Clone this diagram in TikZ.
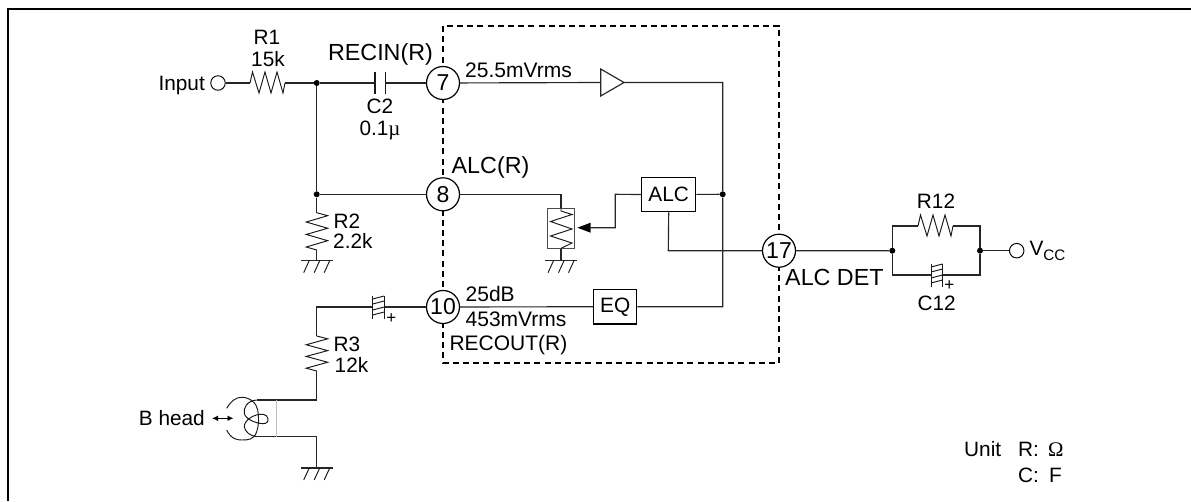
\documentclass[tikz,border=0pt]{standalone}
\usepackage{fontspec}
\setmainfont{Liberation Sans}
\newfontfamily\symfont{Liberation Serif}
\usetikzlibrary{arrows.meta}
\tikzset{
  wire/.style={line width=1.15pt,black!85,line join=miter},
  zig/.style={line width=0.95pt,black!90,line join=miter},
  lab/.style={inner sep=0pt,anchor=base west,font=\fontsize{20.8}{22}\selectfont,text=black},
  biglab/.style={inner sep=0pt,anchor=base west,font=\fontsize{23.3}{25}\selectfont,text=black},
  midlab/.style={inner sep=0pt,anchor=base west,font=\fontsize{21}{23}\selectfont,text=black},
  pluslab/.style={inner sep=0pt,font=\fontsize{17}{18}\selectfont,text=black},
  pin/.style={circle,draw,line width=1.2pt,minimum size=33pt,inner sep=0pt,fill=white,font=\fontsize{23}{24}\selectfont},
  port/.style={circle,draw,line width=0.95pt,minimum size=14.5pt,inner sep=0pt,fill=white},
  blockbox/.style={draw,line width=1.4pt,fill=white,inner sep=0pt,font=\fontsize{20.8}{22}\selectfont},
  junction/.style={circle,fill=black,minimum size=6pt,inner sep=0pt},
  frameline/.style={line width=2.2pt,black},
  dashbox/.style={line width=1.25pt,black,dash pattern=on 6pt off 4.2pt},
}
\newcommand{\gnd}[2]{%
  \draw[wire] (#1-16,#2) -- (#1+16,#2);
  \draw[zig] (#1-7.5,#2) -- (#1-13,#2+12) (#1+3,#2) -- (#1-2.5,#2+12) (#1+13,#2) -- (#1+7.5,#2+12);}
\newcommand{\reshor}[2]{%
  \draw[zig] (#1,#2) -- ++(2.5,-11) -- ++(6.5,21) -- ++(6,-21) -- ++(6,21) -- ++(6,-21) -- ++(6,21) -- ++(2,-10);}
\newcommand{\resver}[3]{% x, start y, end y
  \draw[zig] (#1,#2) -- (#1+11,#2+0.08*#3-0.08*#2) -- (#1-10.5,#2+0.25*#3-0.25*#2) -- (#1+11,#2+0.417*#3-0.417*#2) -- (#1-10.5,#2+0.583*#3-0.583*#2) -- (#1+11,#2+0.75*#3-0.75*#2) -- (#1-10.5,#2+0.92*#3-0.92*#2) -- (#1,#3);}
\newcommand{\polcap}[2]{% left plate x, wire y
  \draw[line width=1pt,black!90] (#1,#2-11.5) -- (#1,#2+11.5) (#1+11.5,#2-11.5) -- (#1+11.5,#2+11.5);
  \draw[zig] (#1,#2-8) -- (#1+11.5,#2-11) (#1,#2-3) -- (#1+11.5,#2-6) (#1,#2+3) -- (#1+11.5,#2) (#1,#2+8) -- (#1+11.5,#2+5);}
\begin{document}
\begin{tikzpicture}[x=1pt,y=-1pt]
\useasboundingbox (0,0) rectangle (1191,501);
\fill[white] (0,0) rectangle (1191,501);
\draw[frameline] (8,501) -- (8,9) -- (1191,9);
\draw[dashbox] (443,26) rectangle (779,363);

% pins and blocks
\node[pin] (p7) at (443,83) {7};
\node[pin] (p8) at (443,194.3) {8};
\node[pin] (p10) at (443,307) {10};
\node[pin] (p17) at (779,250.7) {17};
\node[blockbox,minimum width=54pt,minimum height=34.4pt] (alc) at (668.7,194.5) {ALC};
\node[blockbox,minimum width=43pt,minimum height=34.7pt] (eq) at (615.2,306.7) {EQ};
\node[port] (input) at (218,83) {};
\node[port] (vcc) at (1016.7,250.7) {};

% junctions
\node[junction] (j1) at (316.7,83) {};
\node[junction] (j2) at (316.7,194.3) {};
\node[junction] (j3) at (722.7,194.3) {};
\node[junction] (j4) at (892.3,250.7) {};
\node[junction] (j5) at (980,250.7) {};

% coordinates
\coordinate (r1a) at (250,83);
\coordinate (r1b) at (285,83);
\coordinate (c2a) at (375,83);
\coordinate (c2b) at (385.7,83);
\coordinate (r2a) at (316.7,212.7);
\coordinate (r2b) at (316.7,250);
\coordinate (g2) at (316.7,260.7);
\coordinate (c3a) at (372.7,307);
\coordinate (c3b) at (384.2,307);
\coordinate (k3) at (316.7,307);
\coordinate (r3a) at (316.7,336);
\coordinate (r3b) at (316.7,371);
\coordinate (k4) at (316.7,400);
\coordinate (h1) at (256.7,400);
\coordinate (h2) at (256.7,436.7);
\coordinate (k5) at (316.7,436.7);
\coordinate (g3) at (316.7,468);
\coordinate (ta) at (600.7,82.5);
\coordinate (tb) at (624,82.5);
\coordinate (k6) at (722.7,82.5);
\coordinate (k7) at (722.7,306.7);
\coordinate (vr) at (561,194.3);
\coordinate (vt) at (561,208);
\coordinate (vb) at (561,248.3);
\coordinate (g1) at (561,260.7);
\coordinate (at) at (577.3,227.7);
\coordinate (ab) at (590.7,227.7);
\coordinate (k8) at (615.3,227.7);
\coordinate (k9) at (615.3,194.3);
\coordinate (k10) at (668.3,250.7);
\coordinate (k11) at (892.3,226);
\coordinate (k12) at (892.3,275);
\coordinate (k13) at (980,226);
\coordinate (k14) at (980,275);
\coordinate (r12a) at (918,226);
\coordinate (r12b) at (953,226);
\coordinate (c12a) at (931,275);
\coordinate (c12b) at (942.5,275);

% wires
\draw[wire] (input) -- (r1a) (r1b) -- (j1) -- (c2a) (c2b) -- (p7);
\draw[wire] (j1) -- (j2) -- (p8);
\draw[wire] (j2) -- (r2a) (r2b) -- (g2);
\draw[wire] (p7) -- (ta) (tb) -- (k6) -- (j3) -- (k7) -- (eq);
\draw[wire] (p10) -- (eq);
\draw[wire] (p10) -- (c3b) (c3a) -- (k3) -- (r3a) (r3b) -- (k4) -- (h1);
\draw[wire] (h2) -- (k5) -- (g3);
\draw[wire] (p8) -- (vr) -- (vt) (vb) -- (g1);
\draw[wire] (alc) -- (j3);
\draw[wire] (alc.west) -- (k9) -- (k8) -- (ab);
\draw[wire] (alc.south) -- (k10) -- (p17) -- (j4);
\draw[wire] (j5) -- (vcc);
\draw[wire] (j4) -- (k11) -- (r12a) (r12b) -- (k13) -- (j5);
\draw[wire] (j4) -- (k12) -- (c12a) (c12b) -- (k14) -- (j5);

% components
\reshor{250}{83}
\reshor{918}{226}
\draw[line width=1.1pt,black!90] (375,72) -- (375,93.5) (385.7,72) -- (385.7,93.5);
\resver{316.7}{212.7}{250}
\resver{316.7}{336}{371}
\polcap{372.7}{307}
\polcap{931}{275}
\gnd{316.7}{260.7}
\gnd{316.7}{468}
\gnd{561}{260.7}
\draw[wire,fill=white] (ta |- 0,69) -- (tb) -- (ta |- 0,96) -- cycle;
\draw[line width=1pt,black!70] (547.7,208) rectangle (574.3,248.3);
\draw[zig] (vt) -- (561,211) -- (572,214.5) -- (550.5,221.5) -- (572,229) -- (550.5,236) -- (572,243) -- (vb);
\fill[black] (at) -- (ab |- 0,222.7) -- (ab |- 0,232.7) -- cycle;
\draw[black!25,line width=0.6pt] (276,400) -- (276,436.7);

% tape head
\draw[line width=0.95pt,black!90]
  (226.7,408.3) .. controls (231.7,400) and (236.7,397.3) .. (241.7,397.3)
  .. controls (250,397.3) and (256.7,403.3) .. (257.7,410)
  .. controls (259,417) and (259,425) .. (256.7,431.7)
  .. controls (254,440) and (248,440) .. (241.7,440)
  .. controls (231.7,440) and (228.3,433.3) .. (226.7,430);
\draw[line width=0.95pt,black!90]
  (256.7,400) .. controls (246.7,400.7) and (243.3,408.3) .. (244.3,413.3)
  .. controls (245.3,420) and (260,425) .. (265.7,423.3)
  .. controls (270,421.7) and (268.3,415) .. (263.3,414.3)
  .. controls (255,413.3) and (244,420) .. (244.3,426.7)
  .. controls (245,431.7) and (250,436) .. (256.7,436.7);
\coordinate (dl) at (212,418.3);
\coordinate (dr) at (233.5,418.3);
\draw[line width=0.9pt,{Latex[length=6pt,width=5.5pt]}-{Latex[length=6pt,width=5.5pt]}] (dl) -- (dr);

% texts
\node[lab,anchor=base east] (inputlab) at (205,90) {Input};
\node[lab,anchor=base] (r1lab) at (267,44) {R1};
\node[lab,anchor=base] (r1val) at (268,66) {15k};
\node[biglab,anchor=base] (recin) at (380.5,60) {RECIN(R)};
\node[lab,anchor=base] (c2lab) at (380,113) {C2};
\node[lab,anchor=base] (c2val) at (380,135) {0.1{\symfont µ}};
\node[midlab] (lev1) at (465,77.3) {25.5mVrms};
\node[biglab] (alcr) at (451.5,173.8) {ALC(R)};
\node[lab] (r2lab) at (333.5,228.3) {R2};
\node[lab] (r2val) at (333,248.3) {2.2k};
\node[lab] (r3lab) at (333.5,351) {R3};
\node[lab] (r3val) at (334.5,372) {12k};
\node[lab,anchor=base east] (bhead) at (205,425.7) {B head};
\node[midlab] (db) at (465.5,301.7) {25dB};
\node[midlab] (lev2) at (465.5,326.7) {453mVrms};
\node[midlab] (recout) at (449.3,350) {RECOUT(R)};
\node[biglab] (alcdet) at (785,285.7) {ALC DET};
\node[lab,anchor=base] (r12lab) at (936,208) {R12};
\node[lab,anchor=base] (c12lab) at (936.7,310) {C12};
\node[pluslab] (plus1) at (391.3,318.3) {+};
\node[pluslab] (plus2) at (949.3,285.5) {+};
\node[lab] (vcclab) at (1029.3,255) {V\raisebox{-5pt}{\fontsize{15.2}{16}\selectfont CC}};
\node[lab] (unit) at (964,456.7) {Unit};
\node[lab] (runit) at (1018,456.7) {R:};
\node[lab] (ohm) at (1048,456.7) {{\symfont Ω}};
\node[lab] (cunit) at (1018,482.7) {C:};
\node[lab] (farad) at (1049,482.7) {F};
\end{tikzpicture}
\end{document}
